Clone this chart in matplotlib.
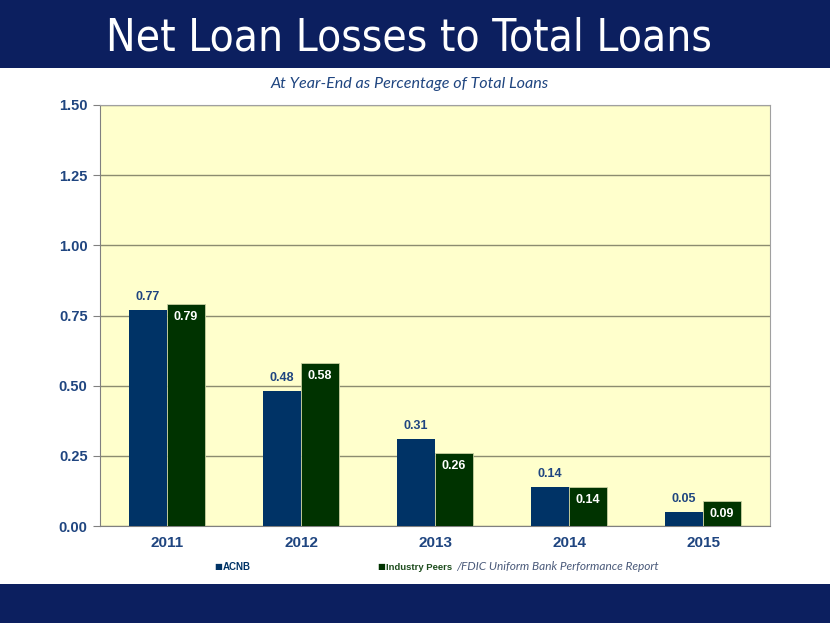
import matplotlib.pyplot as plt
from matplotlib.patches import Rectangle

# datos del gráfico
anios = ['2011', '2012', '2013', '2014', '2015']
acnb = [0.77, 0.48, 0.31, 0.14, 0.05]
peers = [0.79, 0.58, 0.26, 0.14, 0.09]
ticks_y = [0.00, 0.25, 0.50, 0.75, 1.00, 1.25, 1.50]

azul = '#003366'
verde = '#003300'
texto_azul = '#1f4580'
banner = '#0c1f5f'

fig = plt.figure(figsize=(8.3, 6.23), dpi=100)
fig.patch.set_facecolor('white')

# bandas superior e inferior
fig.add_artist(Rectangle((0, 1 - 68 / 623), 1, 68 / 623, transform=fig.transFigure,
                         facecolor=banner, edgecolor='none', zorder=0))
fig.add_artist(Rectangle((0, 0), 1, 39 / 623, transform=fig.transFigure,
                         facecolor=banner, edgecolor='none', zorder=0))

fig.text(0.493, 1 - 38 / 623, 'Net Loan Losses to Total Loans', color='white',
         fontsize=31.7, fontstretch='condensed', ha='center', va='center',
         family=['DejaVu Sans'])
fig.text(0.494, 1 - 84 / 623, 'At Year-End as Percentage of Total Loans', color=texto_azul,
         fontsize=11.6, style='italic', ha='center', va='center', family='Lato')

ax = fig.add_axes([100 / 830, 97 / 623, 670 / 830, 421 / 623])
ax.set_facecolor('#ffffcc')

x = list(range(len(anios)))
ancho = 0.284
b1 = ax.bar([i - ancho / 2 for i in x], acnb, ancho, color=azul, zorder=3)
b2 = ax.bar([i + ancho / 2 for i in x], peers, ancho, color=verde, zorder=3,
            edgecolor='#c8d0a0', linewidth=0.6)

for i, v in enumerate(acnb):
    ax.text(i - ancho / 2, v + 0.025, f'{v:.2f}', ha='center', va='bottom', color=texto_azul,
            fontsize=9, fontweight='bold', family='Liberation Sans')
for i, v in enumerate(peers):
    ax.text(i + ancho / 2, v - 0.025, f'{v:.2f}', ha='center', va='top', color='white',
            fontsize=9, fontweight='bold', family='Liberation Sans')

ax.set_xlim(-0.5, len(anios) - 0.5)
ax.set_ylim(0, 1.5)
ax.set_yticks(ticks_y)
ax.set_yticklabels([f'{t:.2f}' for t in ticks_y], fontsize=10.5, fontweight='bold',
                   color=texto_azul, family='Liberation Sans')
ax.set_xticks(x)
ax.set_xticklabels(anios, fontsize=11, fontweight='bold', color=texto_azul, family='Liberation Sans')
ax.tick_params(axis='x', length=0, pad=7)
ax.tick_params(axis='y', length=5, color='#808080', pad=4)
ax.grid(axis='y', color='#8c8c70', linewidth=1, zorder=1)
for lado in ['top', 'right']:
    ax.spines[lado].set_color('#a0a0a0')
ax.spines['left'].set_color('#808080')
ax.spines['bottom'].set_color('#808080')

# leyenda
fig.text(214 / 830, 1 - 567 / 623, '■', color=azul, fontsize=6, va='center', family='DejaVu Sans')
fig.text(223 / 830, 1 - 567 / 623, 'ACNB', color=azul, fontsize=7, fontweight='bold',
         va='center', family='Liberation Sans')
fig.text(377 / 830, 1 - 567 / 623, '■', color=verde, fontsize=6, va='center', family='DejaVu Sans')
fig.text(386 / 830, 1 - 567 / 623, 'Industry Peers', color='#1e4d1e', fontsize=6.8, fontweight='bold',
         va='center', family='Liberation Sans')
fig.text(456 / 830, 1 - 567 / 623, '/FDIC Uniform Bank Performance Report', color='#4a5a7a',
         fontsize=8.6, style='italic', va='center', family='Lato')

plt.savefig('out.png', dpi=100)
plt.close()
